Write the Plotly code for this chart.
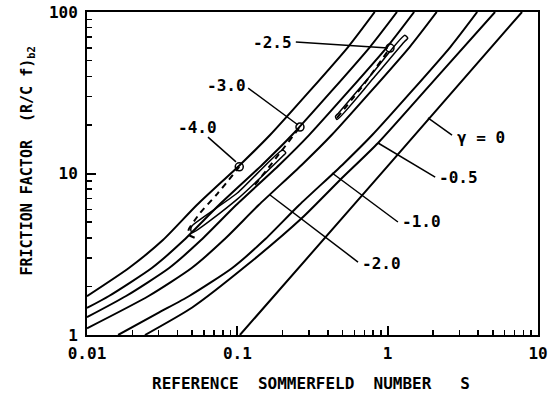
import math
import plotly.graph_objects as go

# ---- data (S = reference Sommerfeld number, F = friction factor) ----
A_S = [0.01, 0.019, 0.032, 0.054, 0.104, 0.165, 0.545, 0.82]
A_F = [1.74, 2.6, 3.87, 6.4, 11.3, 17.3, 60.7, 100]

B_S = [0.01, 0.014, 0.027, 0.0442, 0.0755, 0.146, 0.231, 0.762, 1.153]
B_F = [1.47, 1.744, 2.6, 3.87, 6.38, 11.3, 17.3, 60.7, 100]

C_S = [0.01, 0.0182, 0.0352, 0.0574, 0.0982, 0.19, 0.30, 0.991, 1.50]
C_F = [1.29, 1.744, 2.6, 3.87, 6.38, 11.3, 17.3, 60.7, 100]

g20_S = [0.01, 0.0257, 0.0497, 0.0811, 0.1387, 0.268, 0.424, 1.40, 2.12]
g20_F = [1.1, 1.744, 2.6, 3.87, 6.38, 11.3, 17.3, 60.7, 100]

g10_S = [0.0161, 0.0302, 0.0479, 0.0925, 0.151, 0.258, 0.499, 0.789, 2.61, 3.94]
g10_F = [1.0, 1.38, 1.744, 2.6, 3.87, 6.38, 11.3, 17.3, 60.7, 100]

g05_S = [0.0243, 0.0501, 0.116, 0.269, 0.482, 0.863, 2.24, 5.18]
g05_F = [1.0, 1.48, 2.71, 5.30, 9.12, 15.45, 41.7, 100]

g0_S = [0.104, 1.0, 7.83]
g0_F = [1.0, 11.1, 100]

# dashed branches (gamma = -4.0, -3.0, -2.5)
dash4_S = [0.052, 0.047, 0.0475, 0.0565, 0.0743, 0.103]
dash4_F = [4.0, 4.2, 4.5, 5.69, 7.57, 11.0]
dash3_S = [0.131, 0.18, 0.261]
dash3_F = [8.49, 12.4, 19.4]
dash25_S = [0.46, 0.7, 1.036]
dash25_F = [22.1, 36.0, 59.8]

# thin closed loops lying inside the bundle
loop4_S = [0.05, 0.1, 0.2, 0.21, 0.2, 0.1, 0.05, 0.049, 0.05]
loop4_F = [4.75, 7.57, 14.0, 13.4, 12.8, 6.94, 4.3, 4.5, 4.75]
loop25_S = [0.47, 0.8, 1.3, 1.36, 1.3, 0.8, 0.46, 0.45, 0.47]
loop25_F = [23.6, 42.2, 71.7, 68.7, 65.8, 38.7, 21.6, 22.6, 23.6]

circ_S = [0.103, 0.261, 1.036]
circ_F = [11.0, 19.4, 59.8]

labels = ["\u03b3 = 0", "-0.5", "-1.0", "-2.0", "-2.5", "-3.0", "-4.0"]
# leader: from a point on the curve to a point next to the label (data units)
lead0_S = [1.854, 0.863, 0.427, 0.165, 1.005, 0.2535, 0.098]
lead0_F = [22.1, 15.45, 10.07, 7.36, 59.8, 19.97, 11.8]
lead1_S = [2.68, 2.07, 1.17, 0.635, 0.245, 0.118, 0.0638]
lead1_F = [17.3, 9.51, 5.01, 2.83, 65.2, 33.8, 16.8]
# label anchor (left edge for labels right of the leader, right edge otherwise)
lab_S = [2.81, 2.13, 1.21, 0.655, 0.238, 0.118, 0.0755]
lab_F = [16.8, 9.38, 5.01, 2.79, 65.2, 35.3, 19.4]
lab_side = ["left", "left", "left", "left", "right", "right", "right"]

x_title = "REFERENCE  SOMMERFELD  NUMBER   S"
y_title = "FRICTION FACTOR  (R/C f)<sub>b2</sub>"

FONT = "DejaVu Sans Mono"

fig = go.Figure()

def solid(xs, ys, w=2):
    fig.add_trace(go.Scatter(x=xs, y=ys, mode="lines", line=dict(color="black", width=w, shape="spline", smoothing=0.6),
                             showlegend=False, hoverinfo="skip"))

def dashed(xs, ys):
    fig.add_trace(go.Scatter(x=xs, y=ys, mode="lines", line=dict(color="black", width=2, dash="6px,5px", shape="spline", smoothing=0.6),
                             showlegend=False, hoverinfo="skip"))

for xs, ys in [(A_S, A_F), (B_S, B_F), (C_S, C_F), (g20_S, g20_F), (g10_S, g10_F), (g05_S, g05_F), (g0_S, g0_F)]:
    solid(xs, ys)
for xs, ys in [(loop4_S, loop4_F), (loop25_S, loop25_F)]:
    solid(xs, ys, 1.5)
for xs, ys in [(dash4_S, dash4_F), (dash3_S, dash3_F), (dash25_S, dash25_F)]:
    dashed(xs, ys)

fig.add_trace(go.Scatter(x=circ_S, y=circ_F, mode="markers",
                         marker=dict(symbol="circle-open", size=8, color="black", line=dict(width=1.5)),
                         showlegend=False, hoverinfo="skip"))

for t, x0, y0, x1, y1, lx, ly, side in zip(labels, lead0_S, lead0_F, lead1_S, lead1_F, lab_S, lab_F, lab_side):
    fig.add_trace(go.Scatter(x=[x0, x1], y=[y0, y1], mode="lines", line=dict(color="black", width=1.5),
                             showlegend=False, hoverinfo="skip"))
    fig.add_annotation(x=math.log10(lx), y=math.log10(ly), xref="x", yref="y", text=t, showarrow=False,
                       xanchor=side, yanchor="middle",
                       font=dict(family=FONT, size=16, color="black", weight="bold"))

fig.add_annotation(x=0.497, y=-0.149, xref="paper", yref="paper", text=x_title, showarrow=False,
                   xanchor="center", yanchor="middle", font=dict(family=FONT, size=16, color="black", weight="bold"))
fig.add_annotation(x=-0.131, y=0.54, xref="paper", yref="paper", text=y_title, showarrow=False, textangle=-90,
                   xanchor="center", yanchor="middle", font=dict(family=FONT, size=15, color="black", weight="bold"))

x_ticks = [0.01, 0.1, 1, 10]
y_ticks = [1, 10, 100]
x_minor = [m * d for d in [0.01, 0.1, 1] for m in range(2, 10)]
y_minor = [m * d for d in [1, 10] for m in range(2, 10)]

fig.update_xaxes(type="log", range=[-2, 1], tickvals=x_ticks, ticktext=["0.01", "0.1", "1", "10"],
                 ticks="inside", ticklen=9, tickwidth=2, tickcolor="black", automargin=False, ticklabelstandoff=3,
                 ticklabeloverflow="allow",
                 minor=dict(tickvals=x_minor, ticks="inside", ticklen=5, tickwidth=1.5, tickcolor="black", showgrid=False),
                 showline=True, linewidth=2, linecolor="black", mirror=True, showgrid=False, zeroline=False,
                 tickfont=dict(family=FONT, size=16, color="black", weight="bold"))
fig.update_yaxes(type="log", range=[0, 2], tickvals=y_ticks, ticktext=["1", "10", "100"],
                 ticks="inside", ticklen=9, tickwidth=2, tickcolor="black", automargin=False, ticklabelstandoff=4,
                 ticklabeloverflow="allow",
                 minor=dict(tickvals=y_minor, ticks="inside", ticklen=5, tickwidth=1.5, tickcolor="black", showgrid=False),
                 showline=True, linewidth=2, linecolor="black", mirror=True, showgrid=False, zeroline=False,
                 tickfont=dict(family=FONT, size=16, color="black", weight="bold"))

fig.update_layout(template="none", width=551, height=396, margin=dict(l=87, r=13, t=12, b=61, autoexpand=False),
                  plot_bgcolor="white", paper_bgcolor="white", showlegend=False, hovermode=False)

# remove the browser's default 8 px body margin so the figure sits at the page origin
fig.write_html("out.html", config={"displayModeBar": False, "staticPlot": True},
               post_script="document.body.style.margin='0px';document.body.style.overflow='hidden';"
                           "document.documentElement.style.overflow='hidden';")
